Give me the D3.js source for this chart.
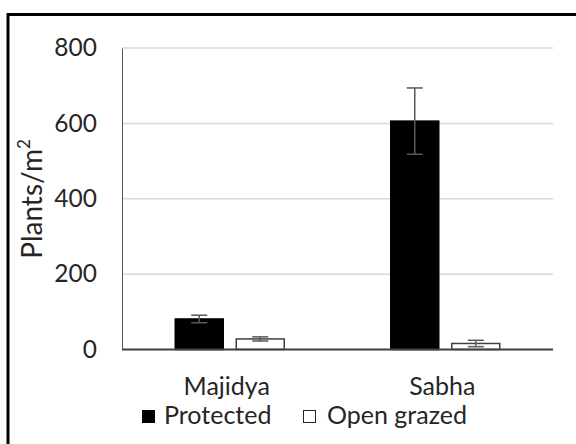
<!DOCTYPE html>
<html>
<head>
<meta charset="utf-8">
<script src="https://cdn.jsdelivr.net/npm/d3@7"></script>
<style>
  html, body { margin: 0; padding: 0; background: #fff; }
  svg { display: block; font-family: Lato, "Open Sans", sans-serif; }
</style>
</head>
<body>
<svg id="chart" width="576" height="444"></svg>
<script>
const sites = ["Majidya", "Sabha"]
const series = ["Protected", "Open grazed"]
const protectedMean = [81, 606]
const protectedErr = [10, 88]
const grazedMean = [28, 16]
const grazedErr = [5.5, 8.5]
const yTicks = [0, 200, 400, 600, 800]

const svg = d3.select("#chart")
const W = 576, H = 444
const plotLeft = 122, plotRight = 553, plotTop = 48, plotBottom = 349.5
const textColor = "#262626"

// outer frame, runs off the right and bottom edges
svg.append("rect")
    .attr("x", 8).attr("y", 14.5)
    .attr("width", W).attr("height", H)
    .attr("fill", "none").attr("stroke", "#000").attr("stroke-width", 3)

const y = d3.scaleLinear().domain([0, 800]).range([plotBottom, plotTop])
const x0 = d3.scaleBand().domain(sites).range([plotLeft, plotRight])
const groupW = 109
const x1 = d3.scaleBand().domain(series).range([0, groupW]).paddingInner(0.213)

const rows = sites.map((s, i) => ({
    site: s,
    values: [
        { key: series[0], v: protectedMean[i], e: protectedErr[i] },
        { key: series[1], v: grazedMean[i], e: grazedErr[i] },
    ],
}))

// gridlines
svg.append("g")
    .selectAll("line")
    .data(yTicks.filter((t) => t > 0))
    .join("line")
    .attr("x1", plotLeft).attr("x2", plotRight)
    .attr("y1", (d) => y(d)).attr("y2", (d) => y(d))
    .attr("stroke", "#d9d9d9").attr("stroke-width", 1.5)

// y axis
const yAxis = svg.append("g")
    .attr("transform", `translate(${plotLeft},0)`)
    .call(d3.axisLeft(y).tickValues(yTicks).tickSize(0).tickPadding(25))
yAxis.select(".domain").attr("stroke", "#595959").attr("stroke-width", 1)
yAxis.selectAll("text")
    .attr("font-size", 24.5).attr("fill", textColor)
    .attr("font-family", "Lato, sans-serif")

// bars
const groups = svg.append("g")
    .selectAll("g")
    .data(rows)
    .join("g")
    .attr("transform", (d) => `translate(${x0(d.site) + (x0.bandwidth() - groupW) / 2},0)`)

groups.selectAll("rect")
    .data((d) => d.values)
    .join("rect")
    .attr("x", (d) => x1(d.key))
    .attr("width", x1.bandwidth())
    .attr("y", (d) => y(d.v))
    .attr("height", (d) => y(0) - y(d.v))
    .attr("fill", (d, i) => (i === 0 ? "#000" : "#fff"))
    .attr("stroke", (d, i) => (i === 0 ? "#000" : "#404040"))
    .attr("stroke-width", 1.5)

// error bars
const capW = 16
const err = groups.selectAll("g.err")
    .data((d) => d.values)
    .join("g")
    .attr("class", "err")
    .attr("stroke", "#595959")
    .attr("stroke-width", 1.5)
err.append("line")
    .attr("x1", (d) => x1(d.key) + x1.bandwidth() / 2)
    .attr("x2", (d) => x1(d.key) + x1.bandwidth() / 2)
    .attr("y1", (d) => y(d.v + d.e))
    .attr("y2", (d) => y(d.v - d.e))
err.selectAll("line.cap")
    .data((d) => [d.v + d.e, d.v - d.e].map((v) => ({ key: d.key, v })))
    .join("line")
    .attr("class", "cap")
    .attr("x1", (d) => x1(d.key) + x1.bandwidth() / 2 - capW / 2)
    .attr("x2", (d) => x1(d.key) + x1.bandwidth() / 2 + capW / 2)
    .attr("y1", (d) => y(d.v))
    .attr("y2", (d) => y(d.v))

// x axis line at zero
svg.append("line")
    .attr("x1", plotLeft).attr("x2", plotRight)
    .attr("y1", y(0)).attr("y2", y(0))
    .attr("stroke", "#404040").attr("stroke-width", 2)

// category labels
svg.append("g")
    .selectAll("text")
    .data(sites)
    .join("text")
    .attr("x", (d) => x0(d) + x0.bandwidth() / 2 - 3)
    .attr("y", 395)
    .attr("text-anchor", "middle")
    .attr("font-size", 25)
    .attr("fill", textColor)
    .text((d) => d)

// y axis title
const title = svg.append("text")
    .attr("transform", "translate(42,199) rotate(-90)")
    .attr("text-anchor", "middle")
    .attr("font-size", 28)
    .attr("fill", textColor)
title.append("tspan").text("Plants/m")
title.append("tspan").attr("font-size", 17).attr("dy", -12).text("2")

// legend
const legendX = [142, 303]
const legend = svg.append("g")
    .selectAll("g")
    .data(series)
    .join("g")
    .attr("transform", (d, i) => `translate(${legendX[i]},410)`)
legend.append("rect")
    .attr("x", 0.5).attr("y", 0.5)
    .attr("width", 12).attr("height", 12)
    .attr("fill", (d, i) => (i === 0 ? "#000" : "#fff"))
    .attr("stroke", (d, i) => (i === 0 ? "#000" : "#262626"))
    .attr("stroke-width", 1)
legend.append("text")
    .attr("x", (d, i) => (i === 0 ? 22 : 24))
    .attr("y", 13.5)
    .attr("font-size", 25)
    .attr("fill", textColor)
    .text((d) => d)
</script>
</body>
</html>
